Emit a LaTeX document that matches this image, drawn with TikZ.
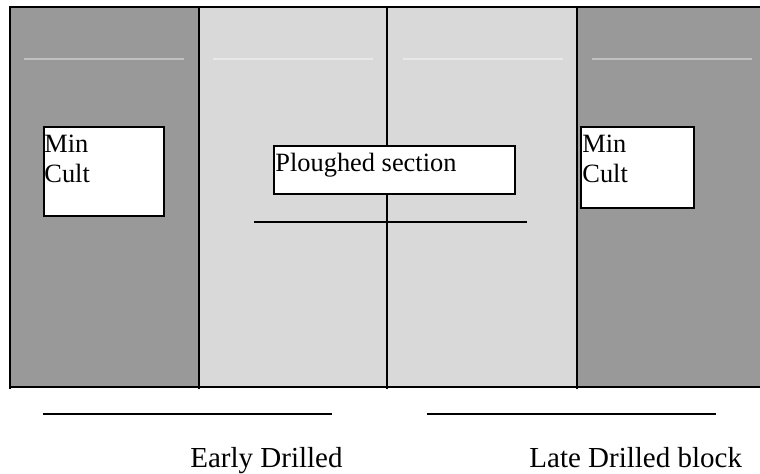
\documentclass[tikz,border=0pt]{standalone}
\usepackage{fontspec}
\setmainfont{Liberation Serif}
\definecolor{plotdark}{RGB}{153,153,153}
\definecolor{plotlight}{RGB}{217,217,217}

\begin{document}
\begin{tikzpicture}[x=0.5pt, y=-0.5pt,
    edge/.style={line width=1pt},
    rowline/.style={white, opacity=0.4, line width=0.6pt},
    cultbox/.style={draw, line width=1pt, fill=white, anchor=north west, inner sep=0pt},
    boxtext/.style={font=\fontsize{13.2}{15}\selectfont, inner sep=0pt, align=left},
    blocktext/.style={font=\fontsize{14.5}{17}\selectfont, inner sep=0pt}]
    \useasboundingbox (0,0) rectangle (760,474);

    % Plot strips
    \fill[plotdark] (10,7) rectangle (199,387);
    \fill[plotlight] (199,7) rectangle (577,387);
    \fill[plotdark] (577,7) rectangle (760,387);

    % Faint row lines
    \foreach \a/\b in {24/184, 213/373, 403/563, 592/752}
        \draw[rowline] (\a,59) -- (\b,59);

    % Field outline and dividers
    \draw[edge] (760,7) -- (10,7) -- (10,389);
    \draw[edge] (10,387) -- (760,387);
    \foreach \x in {199,387,577}
        \draw[edge] (\x,7) -- (\x,389);
    \draw[edge] (254,222) -- (527,222);

    % Section boxes
    \node[cultbox, minimum width=60pt, minimum height=44.5pt] (mincultL) at (43,126) {};
    \node[boxtext, anchor=north west] (mintextL) at (44,135) {Min\\Cult};
    \node[cultbox, minimum width=120.5pt, minimum height=24pt] (plough) at (273,145) {};
    \node[boxtext, anchor=base west] (ploughtext) at (275,172) {Ploughed section};
    \node[cultbox, minimum width=56.5pt, minimum height=40.5pt] (mincultR) at (580,126) {};
    \node[boxtext, anchor=north west] (mintextR) at (582,135) {Min\\Cult};

    % Block lines and labels
    \draw[edge] (43,414) -- (332,414);
    \draw[edge] (427,414) -- (716,414);
    \node[blocktext, anchor=base west] (early) at (190,468) {Early Drilled};
    \node[blocktext, anchor=base west] (late) at (529,468) {Late Drilled block};
\end{tikzpicture}
\end{document}
